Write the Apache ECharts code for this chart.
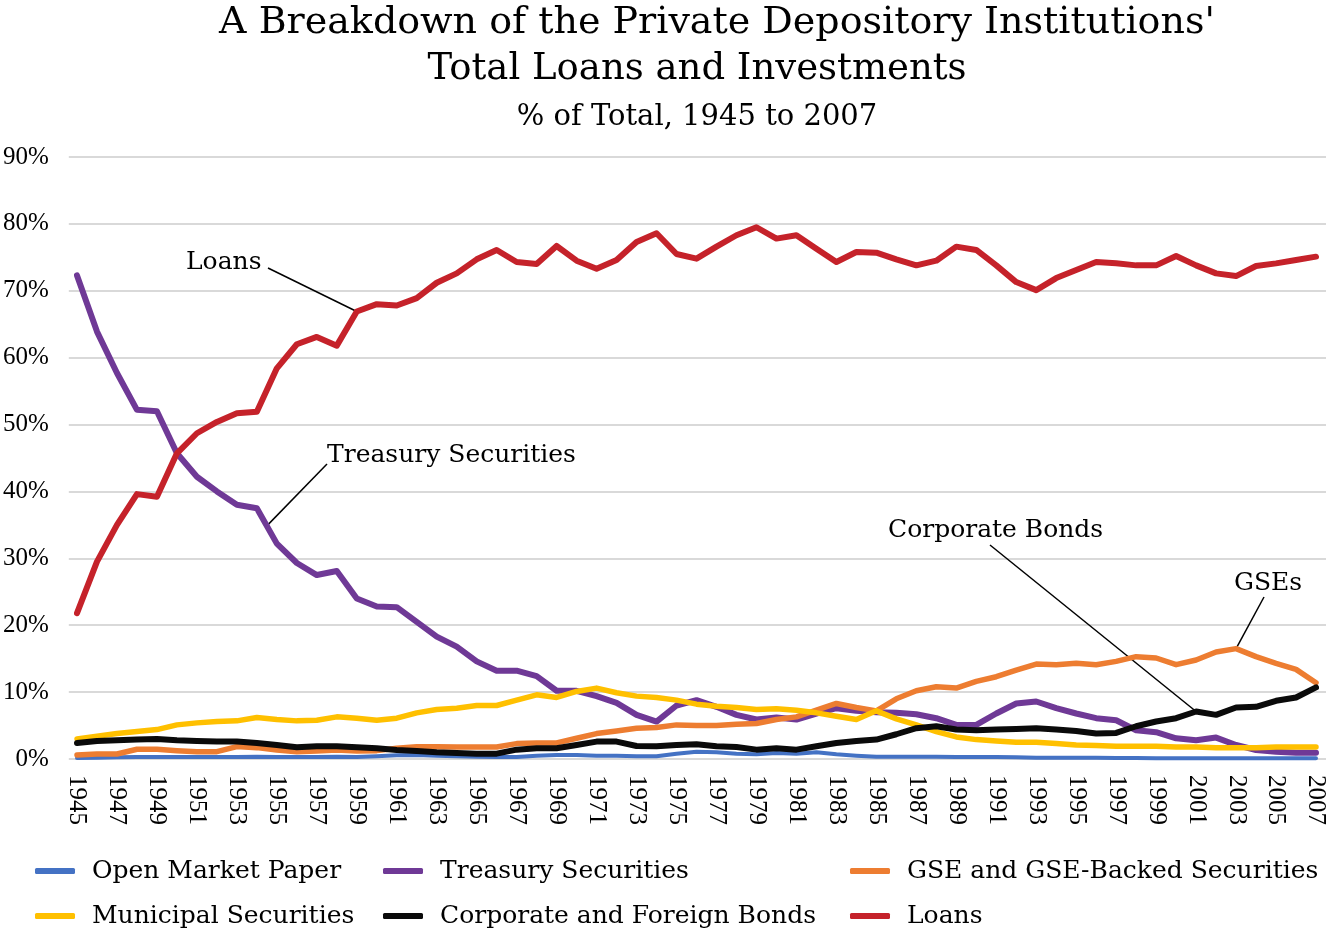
<!DOCTYPE html>
<html>
<head>
<meta charset="utf-8">
<title>Private Depository Institutions: Total Loans and Investments</title>
<script src="https://cdn.jsdelivr.net/npm/echarts@6/dist/echarts.min.js"></script>
<style>
  html, body {margin: 0; padding: 0; background: #fff;}
  #chart {width: 1329px; height: 932px;}
</style>
</head>
<body>
<div id="chart"></div>
<script>
const years = [
  '1945', '1946', '1947', '1948', '1949', '1950', '1951', '1952', '1953', '1954',
  '1955', '1956', '1957', '1958', '1959', '1960', '1961', '1962', '1963', '1964',
  '1965', '1966', '1967', '1968', '1969', '1970', '1971', '1972', '1973', '1974',
  '1975', '1976', '1977', '1978', '1979', '1980', '1981', '1982', '1983', '1984',
  '1985', '1986', '1987', '1988', '1989', '1990', '1991', '1992', '1993', '1994',
  '1995', '1996', '1997', '1998', '1999', '2000', '2001', '2002', '2003', '2004',
  '2005', '2006', '2007'
];

// % of total
const openMarketPaper = [
  0.15, 0.2, 0.25, 0.3, 0.3, 0.3, 0.3, 0.3, 0.3, 0.35,
  0.3, 0.3, 0.3, 0.35, 0.3, 0.4, 0.55, 0.6, 0.5, 0.4,
  0.35, 0.3, 0.3, 0.5, 0.6, 0.6, 0.5, 0.5, 0.4, 0.4,
  0.8, 1.1, 1.0, 0.8, 0.7, 0.9, 0.8, 1.0, 0.7, 0.5,
  0.35, 0.35, 0.35, 0.35, 0.3, 0.3, 0.3, 0.25, 0.2, 0.2,
  0.2, 0.2, 0.15, 0.15, 0.1, 0.1, 0.1, 0.1, 0.1, 0.1,
  0.1, 0.1, 0.1
];
const treasury = [
  72.3, 63.9, 57.7, 52.2, 52.0, 45.7, 42.2, 40.0, 38.0, 37.5,
  32.2, 29.3, 27.5, 28.1, 24.0, 22.8, 22.7, 20.5, 18.3, 16.8,
  14.6, 13.2, 13.2, 12.4, 10.2, 10.2, 9.4, 8.4, 6.6, 5.6,
  8.0, 8.8, 7.8, 6.6, 5.9, 6.2, 5.9, 6.8, 7.6, 7.2,
  7.0, 6.9, 6.7, 6.1, 5.1, 5.1, 6.8, 8.3, 8.6, 7.6,
  6.8, 6.1, 5.8, 4.3, 4.0, 3.1, 2.8, 3.2, 2.1, 1.35,
  1.1, 0.95, 0.95
];
const gse = [
  0.6, 0.75, 0.75, 1.45, 1.45, 1.25, 1.1, 1.1, 1.85, 1.7,
  1.35, 1.1, 1.2, 1.35, 1.2, 1.25, 1.6, 1.85, 1.85, 1.8,
  1.8, 1.8, 2.3, 2.4, 2.4, 3.1, 3.8, 4.2, 4.6, 4.7,
  5.1, 5.0, 5.0, 5.2, 5.3, 5.9, 6.3, 7.3, 8.3, 7.7,
  7.2, 9.0, 10.2, 10.8, 10.6, 11.6, 12.3, 13.3, 14.2, 14.1,
  14.3, 14.1, 14.6, 15.3, 15.1, 14.1, 14.8, 16.0, 16.5, 15.3,
  14.3, 13.4, 11.4
];
const municipal = [
  3.0, 3.4, 3.8, 4.1, 4.4, 5.1, 5.4, 5.6, 5.7, 6.2,
  5.9, 5.7, 5.8, 6.3, 6.1, 5.8, 6.1, 6.9, 7.4, 7.6,
  8.0, 8.0, 8.8, 9.6, 9.2, 10.1, 10.6, 9.9, 9.4, 9.2,
  8.8, 8.2, 7.9, 7.7, 7.4, 7.5, 7.3, 6.9, 6.4, 5.9,
  7.2, 6.0, 5.1, 4.1, 3.3, 2.9, 2.7, 2.5, 2.5, 2.3,
  2.1, 2.0, 1.9, 1.9, 1.9, 1.8, 1.8, 1.7, 1.7, 1.7,
  1.8, 1.8, 1.8
];
const corporate = [
  2.4, 2.7, 2.8, 2.9, 3.0, 2.8, 2.7, 2.6, 2.6, 2.4,
  2.1, 1.75, 1.9, 1.9, 1.75, 1.6, 1.35, 1.2, 1.0, 0.9,
  0.8, 0.8, 1.4, 1.6, 1.6, 2.1, 2.6, 2.6, 1.95, 1.9,
  2.1, 2.2, 1.9, 1.8, 1.4, 1.6, 1.4, 1.9, 2.4, 2.7,
  2.9, 3.7, 4.6, 4.9, 4.4, 4.3, 4.4, 4.5, 4.6, 4.4,
  4.2, 3.8, 3.9, 4.9, 5.6, 6.1, 7.1, 6.6, 7.7, 7.8,
  8.7, 9.2, 10.7
];
const loans = [
  21.8, 29.5, 35.0, 39.6, 39.2, 45.7, 48.7, 50.4, 51.7, 51.9,
  58.4, 62.0, 63.1, 61.8, 66.9, 68.0, 67.8, 68.9, 71.2, 72.6,
  74.7, 76.1, 74.3, 74.0, 76.7, 74.5, 73.3, 74.6, 77.3, 78.6,
  75.5, 74.8, 76.6, 78.3, 79.5, 77.8, 78.3, 76.3, 74.3, 75.8,
  75.7, 74.7, 73.8, 74.5, 76.6, 76.1, 73.8, 71.3, 70.1, 71.9,
  73.1, 74.3, 74.1, 73.8, 73.8, 75.2, 73.8, 72.6, 72.2, 73.7,
  74.1, 74.6, 75.1
];

const serif = 'DejaVu Serif';
const axisFont = 'Liberation Serif';

const chart = echarts.init(document.getElementById('chart'));

const line = (name, data, color, width) => ({
  name,
  type: 'line',
  xAxisIndex: 1,
  yAxisIndex: 1,
  data,
  symbol: 'none',
  itemStyle: {color},
  lineStyle: {color, width, cap: 'round', join: 'round'},
  emphasis: {disabled: true}
});

const legendCommon = {
  orient: 'vertical',
  top: 857,
  height: 75,
  padding: 0,
  icon: 'roundRect',
  itemWidth: 40,
  itemHeight: 6,
  itemGap: 17,
  textStyle: {fontFamily: serif, fontSize: 25, lineHeight: 28, color: '#000', padding: [0, 0, 0, 12]}
};

chart.setOption({
  animation: false,
  backgroundColor: '#fff',
  grid: [
    {left: 66, right: 3, top: 157, bottom: 173},
    {left: 77, right: 13, top: 157, bottom: 173}
  ],
  xAxis: [
    {type: 'value', gridIndex: 0, show: false},
    {
      type: 'category',
      gridIndex: 1,
      data: years,
      boundaryGap: false,
      axisLine: {show: false},
      axisTick: {show: false},
      axisLabel: {
        interval: 1,
        rotate: -90,
        margin: 16,
        fontFamily: axisFont,
        fontSize: 25,
        color: '#000'
      }
    }
  ],
  yAxis: [
    {
      type: 'value',
      gridIndex: 0,
      min: 0,
      max: 90,
      interval: 10,
      axisLine: {show: false},
      axisTick: {show: false},
      splitLine: {lineStyle: {color: '#d9d9d9', width: 2}},
      axisLabel: {
        formatter: '{value}%',
        margin: 20,
        fontFamily: axisFont,
        fontSize: 25,
        color: '#000'
      }
    },
    {type: 'value', gridIndex: 1, min: 0, max: 90, show: false}
  ],
  legend: [
    {...legendCommon, left: 35, data: ['Open Market Paper', 'Municipal Securities']},
    {...legendCommon, left: 383, data: ['Treasury Securities', 'Corporate and Foreign Bonds']},
    {...legendCommon, left: 850, data: ['GSE and GSE-Backed Securities', 'Loans']}
  ],
  series: [
    line('Open Market Paper', openMarketPaper, '#4472c4', 4),
    line('Treasury Securities', treasury, '#6f3996', 6),
    line('GSE and GSE-Backed Securities', gse, '#ed7d31', 5.5),
    line('Municipal Securities', municipal, '#ffc000', 5.5),
    line('Corporate and Foreign Bonds', corporate, '#0a0a0a', 6),
    line('Loans', loans, '#c5222a', 6)
  ]
});

// callouts: text placed in the free space, leader line ends on the series
const px = (seriesIndex, i, values) => chart.convertToPixel({seriesIndex}, [i, values[i]]);
const loanPt = px(5, years.indexOf('1959'), loans);
const tA = px(1, years.indexOf('1954'), treasury);
const tB = px(1, years.indexOf('1955'), treasury);
const treasuryPt = [(tA[0] + tB[0]) / 2, (tA[1] + tB[1]) / 2];
const corpPt = px(4, years.indexOf('2001'), corporate);
const gsePt = px(2, years.indexOf('2003'), gse);

const label = (text, x, y, size, align) => ({
  type: 'text',
  style: {text, x, y, font: `${size}px "${serif}"`, fill: '#000', textAlign: align || 'left', textVerticalAlign: 'middle'}
});
const leader = (x1, y1, p) => ({
  type: 'line',
  shape: {x1, y1, x2: p[0], y2: p[1]},
  style: {stroke: '#000', lineWidth: 1.5}
});

chart.setOption({
  graphic: [
    label("A Breakdown of the Private Depository Institutions'", 717, 23, 38, 'center'),
    label('Total Loans and Investments', 697, 69, 37, 'center'),
    label('% of Total, 1945 to 2007', 697, 117, 29, 'center'),
    label('Loans', 186, 262, 25),
    leader(268, 268, loanPt),
    label('Treasury Securities', 327, 455, 25),
    leader(327, 464, treasuryPt),
    label('Corporate Bonds', 888, 530, 25),
    leader(990, 545, corpPt),
    label('GSEs', 1234, 583, 25),
    leader(1264, 597, gsePt)
  ]
});
</script>
</body>
</html>
